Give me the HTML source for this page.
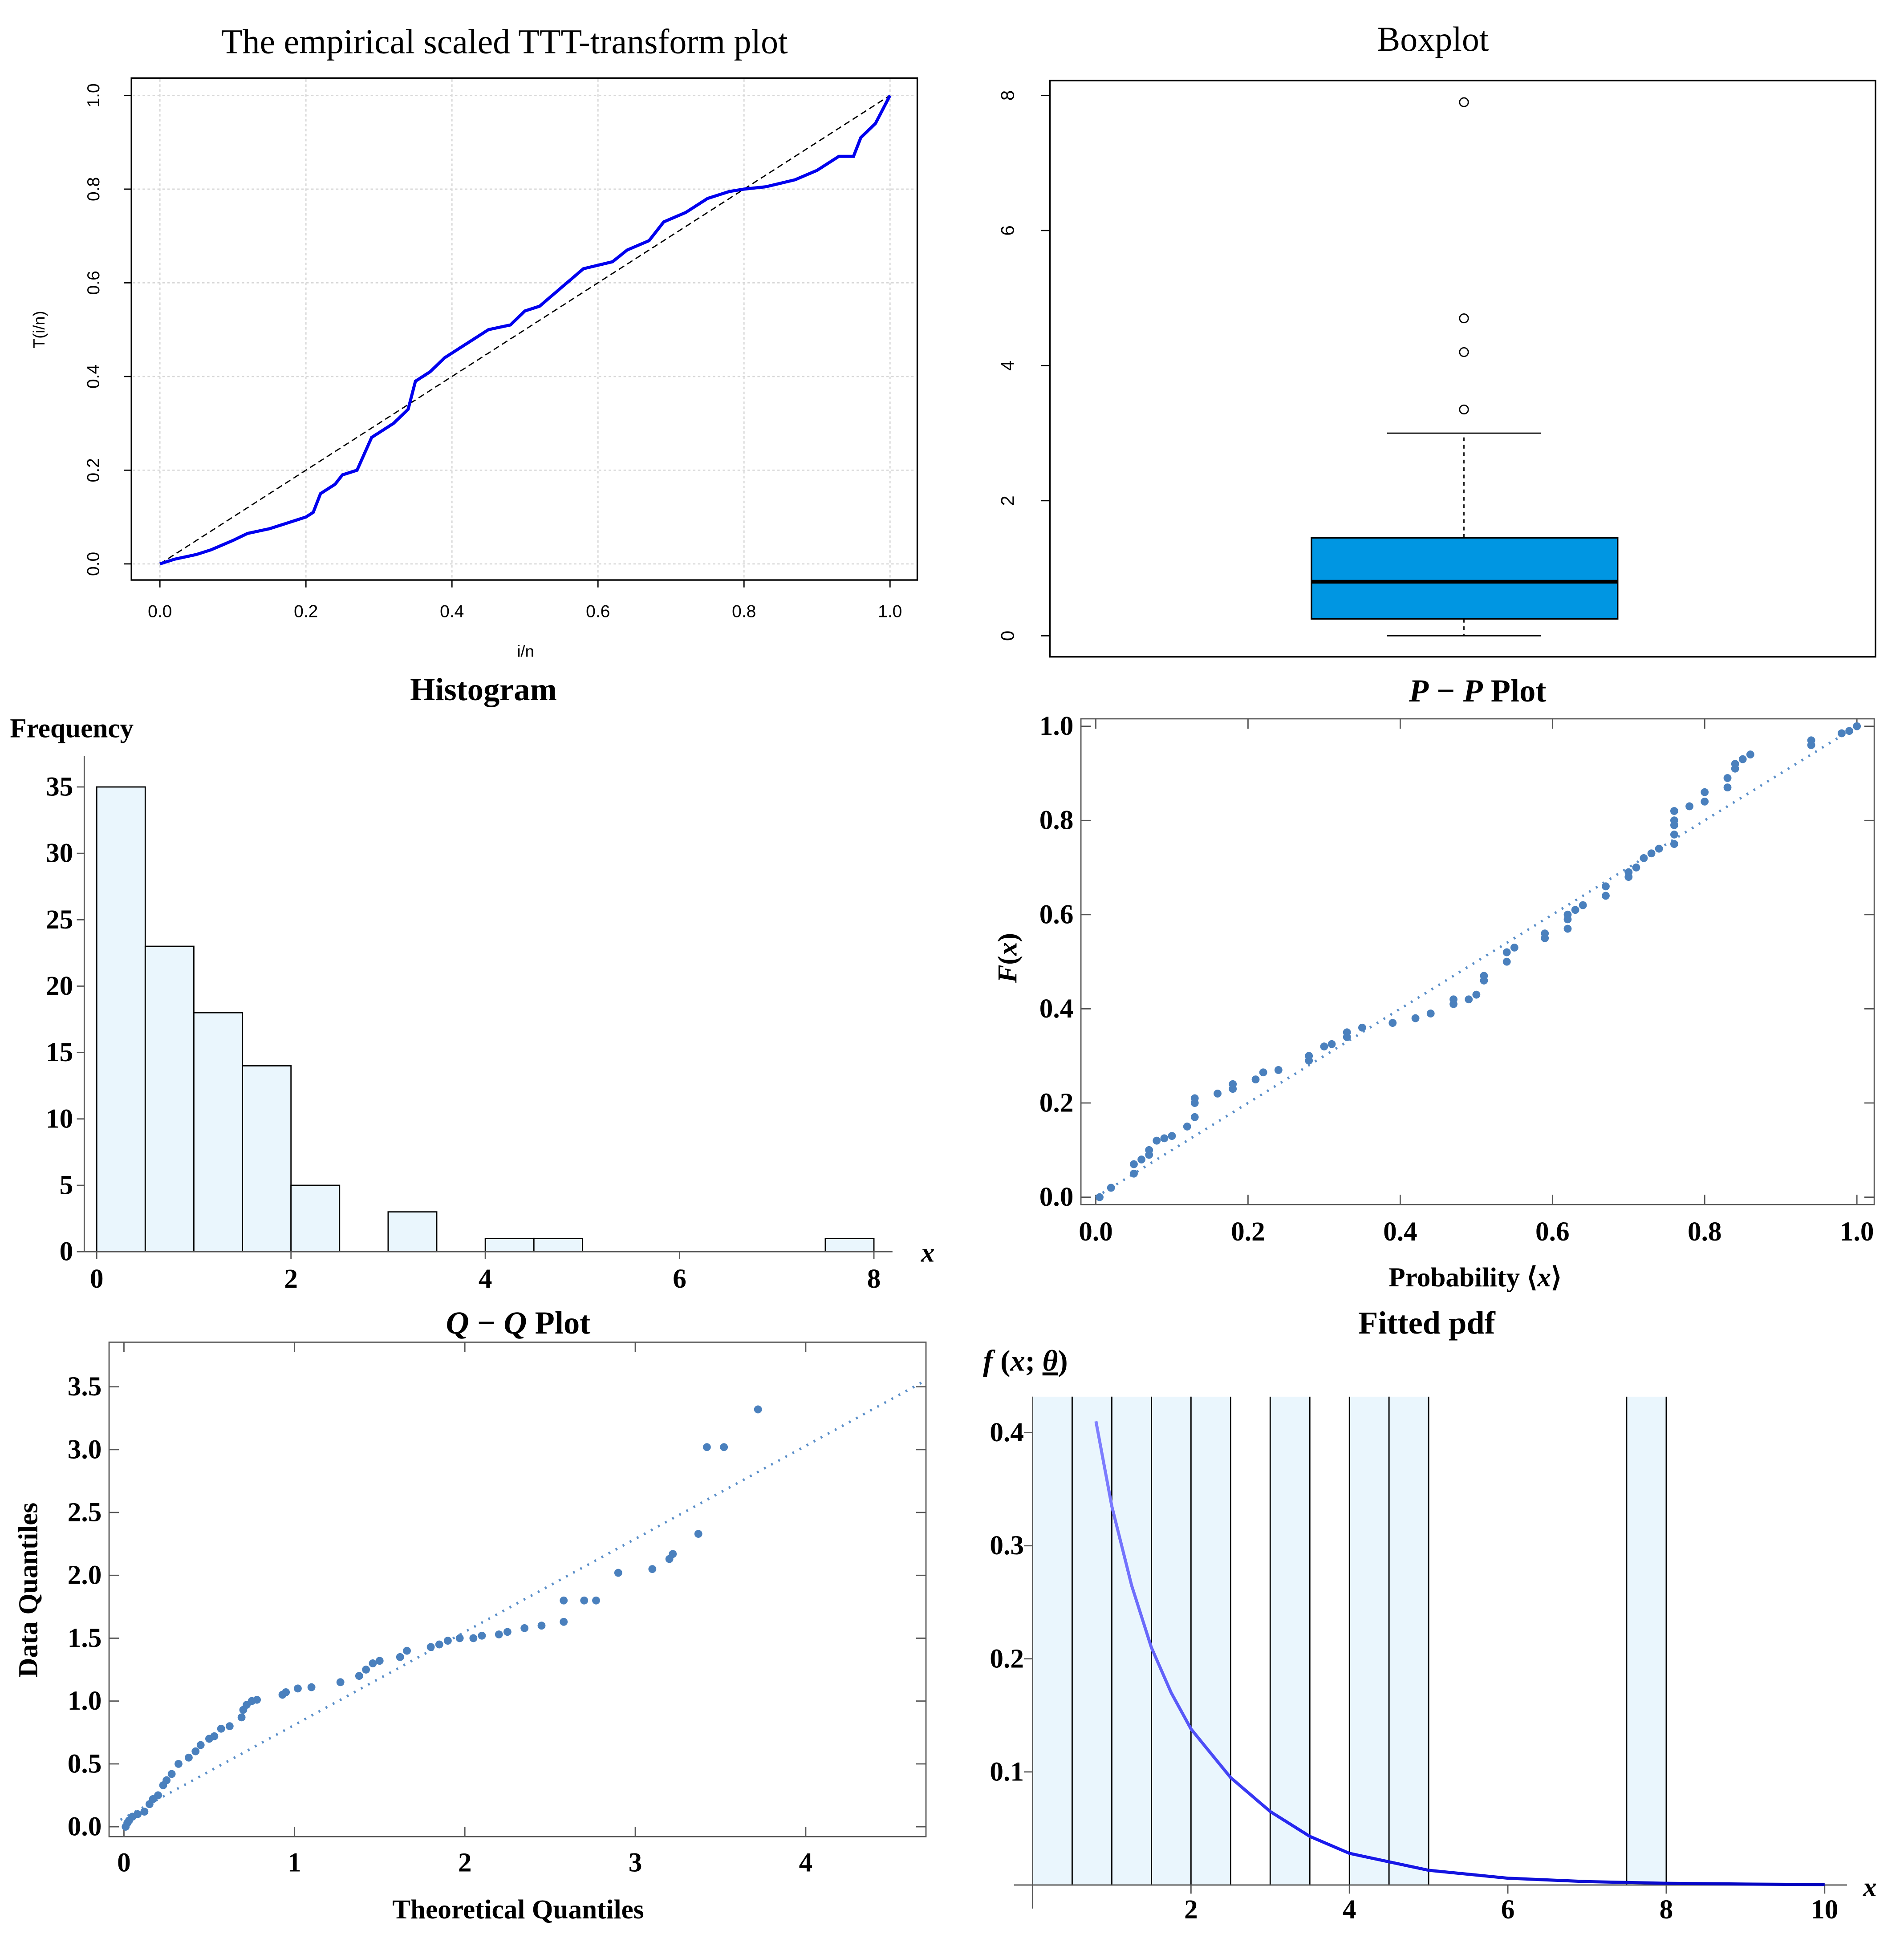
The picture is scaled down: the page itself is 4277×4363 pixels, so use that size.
<!DOCTYPE html>
<html><head><meta charset="utf-8">
<style>
html,body{margin:0;padding:0;background:#fff;}
svg{display:block;}
.ser{font-family:"Liberation Serif",serif;}
.sans{font-family:"Liberation Sans",sans-serif;}
</style></head>
<body>
<svg id="root" width="4277" height="4363" viewBox="0 0 1536 1567" preserveAspectRatio="none" xmlns="http://www.w3.org/2000/svg">
<rect x="0" y="0" width="1536" height="1567" fill="#fff"/>
<defs>
<linearGradient id="pdfgrad" x1="0" y1="0" x2="1" y2="0">
<stop offset="0" stop-color="#8080ff"/><stop offset="0.3" stop-color="#1a1aee"/><stop offset="1" stop-color="#0000bb"/>
</linearGradient>
</defs>
<text class="ser" x="407" y="43" font-size="28" text-anchor="middle">The empirical scaled TTT-transform plot</text>
<text class="sans" x="424" y="530" font-size="13" text-anchor="middle">i/n</text>
<text class="sans" x="36" y="266" font-size="13" text-anchor="middle" transform="rotate(-90 36 266)">T(i/n)</text>
<text class="ser" x="1156" y="41" font-size="28" text-anchor="middle">Boxplot</text>
<text class="ser" x="390" y="565" font-size="26" font-weight="bold" text-anchor="middle">Histogram</text>
<text class="ser" x="8" y="595" font-size="22" font-weight="bold">Frequency</text>
<text class="ser" x="743" y="1018" font-size="22" font-weight="bold" font-style="italic">x</text>
<text class="ser" x="1192" y="566" font-size="26" font-weight="bold" text-anchor="middle"><tspan font-style="italic">P</tspan> − <tspan font-style="italic">P</tspan> Plot</text>
<text class="ser" x="1190" y="1038" font-size="22" font-weight="bold" text-anchor="middle">Probability ⟨<tspan font-style="italic">x</tspan>⟩</text>
<text class="ser" x="820" y="773" font-size="22" font-weight="bold" text-anchor="middle" transform="rotate(-90 820 773)"><tspan font-style="italic">F</tspan>(<tspan font-style="italic">x</tspan>)</text>
<text class="ser" x="418" y="1076" font-size="26" font-weight="bold" text-anchor="middle"><tspan font-style="italic">Q</tspan> − <tspan font-style="italic">Q</tspan> Plot</text>
<text class="ser" x="418" y="1548" font-size="22" font-weight="bold" text-anchor="middle">Theoretical Quantiles</text>
<text class="ser" x="30" y="1283" font-size="22" font-weight="bold" text-anchor="middle" transform="rotate(-90 30 1283)">Data Quantiles</text>
<text class="ser" x="1151" y="1076" font-size="26" font-weight="bold" text-anchor="middle">Fitted pdf</text>
<text class="ser" x="793" y="1106" font-size="24" font-weight="bold"><tspan font-style="italic">f</tspan> (<tspan font-style="italic">x</tspan>; <tspan text-decoration="underline" font-style="italic">θ</tspan>)</text>
<text class="ser" x="1503" y="1530" font-size="22" font-weight="bold" font-style="italic">x</text>
</svg>
<script>
const tttX=[0,0.02,0.05,0.07,0.1,0.12,0.15,0.17,0.2,0.21,0.22,0.24,0.25,0.27,0.29,0.32,0.34,0.35,0.37,0.39,0.41,0.43,0.45,0.48,0.5,0.52,0.55,0.58,0.62,0.64,0.67,0.69,0.72,0.75,0.78,0.8,0.83,0.87,0.9,0.93,0.95,0.96,0.98,1];
const tttY=[0,0.01,0.02,0.03,0.05,0.065,0.075,0.085,0.1,0.11,0.15,0.17,0.19,0.2,0.27,0.3,0.33,0.39,0.41,0.44,0.46,0.48,0.5,0.51,0.54,0.55,0.59,0.63,0.645,0.67,0.69,0.73,0.75,0.78,0.795,0.8,0.805,0.82,0.84,0.87,0.87,0.91,0.94,1];
const tttTicks=[0,0.2,0.4,0.6,0.8,1.0];
const boxStats=[0,0.25,0.8,1.45,3.0];
const boxOutliers=[3.35,4.2,4.7,7.9];
const boxTicks=[0,2,4,6,8];
const histStarts=[0,0.5,1,1.5,2,2.5,3,3.5,4,4.5,5,5.5,6,6.5,7,7.5];
const histCounts=[35,23,18,14,5,0,3,0,1,1,0,0,0,0,0,1];
const histXTicks=[0,2,4,6,8];
const histYTicks=[0,5,10,15,20,25,30,35];
const ppX=[0.005,0.02,0.05,0.05,0.06,0.07,0.07,0.08,0.09,0.1,0.12,0.13,0.13,0.13,0.16,0.18,0.18,0.21,0.22,0.24,0.28,0.28,0.3,0.31,0.33,0.33,0.35,0.39,0.42,0.44,0.47,0.47,0.49,0.5,0.51,0.51,0.54,0.54,0.55,0.59,0.59,0.62,0.62,0.62,0.63,0.64,0.67,0.67,0.7,0.7,0.71,0.72,0.73,0.74,0.76,0.76,0.76,0.76,0.76,0.78,0.8,0.8,0.83,0.83,0.84,0.84,0.85,0.86,0.94,0.94,0.98,0.99,1.0];
const ppY=[0.0,0.02,0.05,0.07,0.08,0.1,0.09,0.12,0.125,0.13,0.15,0.17,0.2,0.21,0.22,0.23,0.24,0.25,0.265,0.27,0.29,0.3,0.32,0.325,0.34,0.35,0.36,0.37,0.38,0.39,0.41,0.42,0.42,0.43,0.46,0.47,0.5,0.52,0.53,0.55,0.56,0.57,0.59,0.6,0.61,0.62,0.64,0.66,0.68,0.69,0.7,0.72,0.73,0.74,0.75,0.77,0.79,0.8,0.82,0.83,0.84,0.86,0.87,0.89,0.91,0.92,0.93,0.94,0.96,0.97,0.985,0.99,1.0];
const ppTicks=[0,0.2,0.4,0.6,0.8,1.0];
const qqX=[0.01,0.02,0.03,0.05,0.08,0.12,0.15,0.17,0.2,0.23,0.25,0.28,0.32,0.38,0.42,0.45,0.5,0.53,0.57,0.62,0.69,0.7,0.72,0.75,0.78,0.93,0.95,1.02,1.1,1.27,1.38,1.42,1.46,1.5,1.62,1.66,1.8,1.85,1.9,1.97,2.05,2.1,2.2,2.25,2.35,2.45,2.58,2.58,2.7,2.77,2.9,3.1,3.2,3.22,3.37,3.42,3.52,3.72];
const qqY=[0.0,0.03,0.05,0.08,0.1,0.12,0.18,0.22,0.25,0.33,0.37,0.42,0.5,0.55,0.6,0.65,0.7,0.72,0.78,0.8,0.87,0.93,0.97,1.0,1.01,1.05,1.07,1.1,1.11,1.15,1.2,1.25,1.3,1.32,1.35,1.4,1.43,1.45,1.48,1.5,1.5,1.52,1.53,1.55,1.58,1.6,1.63,1.8,1.8,1.8,2.02,2.05,2.13,2.17,2.33,3.02,3.02,3.32];
const qqLine=[0.07,0.74];
const qqXTicks=[0,1,2,3,4];
const qqYTicks=[0,0.5,1,1.5,2,2.5,3,3.5];
const pdfBarStarts=[0,0.5,1,1.5,2,3,4,4.5,7.5];
const pdfCurveX=[0.8,1,1.25,1.5,1.75,2,2.5,3,3.5,4,5,6,7,8,9,10];
const pdfCurveY=[0.41,0.335,0.265,0.21,0.17,0.138,0.095,0.065,0.043,0.028,0.013,0.006,0.003,0.0015,0.0008,0.0004];
const pdfXTicks=[2,4,6,8,10];
const pdfYTicks=[0.1,0.2,0.3,0.4];

const NS='http://www.w3.org/2000/svg';
const root=document.getElementById('root');
function mk(tag,at,txt){const e=document.createElementNS(NS,tag);for(const k in at)e.setAttribute(k,at[k]);if(txt!==undefined)e.textContent=txt;root.appendChild(e);return e;}
function tag(e,n){


return e;}
function lin(d0,d1,p0,p1){return v=>p0+(v-d0)/(d1-d0)*(p1-p0);}
const SER='"Liberation Serif",serif', SANS='"Liberation Sans",sans-serif';

{const X=lin(0,1,129,718),Y=lin(0,1,455,77);
tttTicks.forEach(t=>{
 tag(mk('line',{x1:X(t),x2:X(t),y1:64,y2:467,stroke:'#d8d8d8','stroke-dasharray':'2,2','stroke-width':1}),'ttt-x-gridline');
 tag(mk('line',{x1:107,x2:739,y1:Y(t),y2:Y(t),stroke:'#d8d8d8','stroke-dasharray':'2,2','stroke-width':1}),'ttt-y-gridline');
 tag(mk('line',{x1:X(t),x2:X(t),y1:468,y2:474,stroke:'#000'}),'ttt-x-tick');
 tag(mk('text',{x:X(t),y:498,'font-size':14,'text-anchor':'middle','font-family':SANS},t.toFixed(1)),'ttt-x-tick-label');
 tag(mk('line',{x1:100,x2:106,y1:Y(t),y2:Y(t),stroke:'#000'}),'ttt-y-tick');
 tag(mk('text',{x:80,y:Y(t),'font-size':14,'text-anchor':'middle','font-family':SANS,transform:`rotate(-90 80 ${Y(t)})`},t.toFixed(1)),'ttt-y-tick-label');
});
tag(mk('rect',{x:106,y:63,width:634,height:405,fill:'none',stroke:'#000','stroke-width':1.2}),'ttt-plot-frame');
tag(mk('line',{x1:X(0),y1:Y(0),x2:X(1),y2:Y(1),stroke:'#000','stroke-dasharray':'5,3','stroke-width':1}),'ttt-reference-diagonal');
tag(mk('polyline',{points:tttX.map((v,i)=>X(v)+','+Y(tttY[i])).join(' '),fill:'none',stroke:'#0000ee','stroke-width':2.5}),'ttt-curve');
}

{const Y=lin(0,8,513,77);const cx=1181;
tag(mk('rect',{x:847,y:65,width:666,height:465,fill:'none',stroke:'#000','stroke-width':1.2}),'boxplot-frame');
boxTicks.forEach(t=>{
 tag(mk('line',{x1:840,x2:847,y1:Y(t),y2:Y(t),stroke:'#000'}),'boxplot-y-tick');
 tag(mk('text',{x:818,y:Y(t),'font-size':15,'text-anchor':'middle','font-family':SANS,transform:`rotate(-90 818 ${Y(t)})`},String(t)),'boxplot-y-tick-label');
});
tag(mk('line',{x1:cx,x2:cx,y1:Y(boxStats[3]),y2:Y(boxStats[4]),stroke:'#000','stroke-dasharray':'3,3'}),'boxplot-upper-whisker');
tag(mk('line',{x1:1119,x2:1243,y1:Y(boxStats[4]),y2:Y(boxStats[4]),stroke:'#000'}),'boxplot-upper-cap');
tag(mk('line',{x1:cx,x2:cx,y1:Y(boxStats[1]),y2:Y(boxStats[0]),stroke:'#000','stroke-dasharray':'3,3'}),'boxplot-lower-whisker');
tag(mk('line',{x1:1119,x2:1243,y1:Y(boxStats[0]),y2:Y(boxStats[0]),stroke:'#000'}),'boxplot-lower-cap');
tag(mk('rect',{x:1058,y:Y(boxStats[3]),width:247,height:Y(boxStats[1])-Y(boxStats[3]),fill:'#0096e2',stroke:'#000','stroke-width':1.2}),'boxplot-box');
tag(mk('line',{x1:1058,x2:1305,y1:Y(boxStats[2]),y2:Y(boxStats[2]),stroke:'#000','stroke-width':3}),'boxplot-median');
boxOutliers.forEach(o=>{tag(mk('circle',{cx:cx,cy:Y(o),r:3.5,fill:'none',stroke:'#000'}),'boxplot-outlier');});
}

{const X=lin(0,8,78,705),Y=lin(0,35,1010,635);
histStarts.forEach((s,i)=>{if(histCounts[i]>0)
 tag(mk('rect',{x:X(s),y:Y(histCounts[i]),width:X(s+0.5)-X(s),height:Y(0)-Y(histCounts[i]),fill:'#eaf6fd',stroke:'#000','stroke-width':1}),'histogram-bar');});
tag(mk('line',{x1:68,x2:720,y1:1010,y2:1010,stroke:'#555'}),'histogram-x-axis');
tag(mk('line',{x1:68,x2:68,y1:610,y2:1010,stroke:'#555'}),'histogram-y-axis');
histXTicks.forEach(t=>{
 tag(mk('line',{x1:X(t),x2:X(t),y1:1010,y2:1016,stroke:'#555'}),'histogram-x-tick');
 tag(mk('text',{x:X(t),y:1039,'font-size':22,'font-weight':'bold','text-anchor':'middle','font-family':SER},String(t)),'histogram-x-tick-label');});
histYTicks.forEach(t=>{
 tag(mk('line',{x1:62,x2:68,y1:Y(t),y2:Y(t),stroke:'#555'}),'histogram-y-tick');
 tag(mk('text',{x:59,y:Y(t)+7,'font-size':22,'font-weight':'bold','text-anchor':'end','font-family':SER},String(t)),'histogram-y-tick-label');});
}

{const X=lin(0,1,884,1498),Y=lin(0,1,966,586);
tag(mk('rect',{x:872,y:580,width:640,height:392,fill:'none',stroke:'#555','stroke-width':1}),'pp-plot-frame');
ppTicks.forEach(t=>{
 tag(mk('line',{x1:X(t),x2:X(t),y1:972,y2:964,stroke:'#555'}),'pp-x-tick');
 tag(mk('line',{x1:X(t),x2:X(t),y1:580,y2:588,stroke:'#555'}),'pp-x-tick-top');
 tag(mk('text',{x:X(t),y:1001,'font-size':22,'font-weight':'bold','text-anchor':'middle','font-family':SER},t.toFixed(1)),'pp-x-tick-label');
 tag(mk('line',{x1:872,x2:880,y1:Y(t),y2:Y(t),stroke:'#555'}),'pp-y-tick');
 tag(mk('line',{x1:1504,x2:1512,y1:Y(t),y2:Y(t),stroke:'#555'}),'pp-y-tick-right');
 tag(mk('text',{x:866,y:Y(t)+7,'font-size':22,'font-weight':'bold','text-anchor':'end','font-family':SER},t.toFixed(1)),'pp-y-tick-label');});
tag(mk('line',{x1:X(0),y1:Y(0),x2:X(1),y2:Y(1),stroke:'#5b8fc9','stroke-width':2,'stroke-dasharray':'1.5,5'}),'pp-reference-line');
ppX.forEach((v,i)=>{tag(mk('circle',{cx:X(v),cy:Y(ppY[i]),r:3.2,fill:'#4a80bd'}),'pp-point');});
}

{const X=lin(0,4,100,650),Y=lin(0,3.5,1474,1119);
tag(mk('rect',{x:88,y:1083,width:659,height:399,fill:'none',stroke:'#555','stroke-width':1}),'qq-plot-frame');
qqXTicks.forEach(t=>{
 tag(mk('line',{x1:X(t),x2:X(t),y1:1482,y2:1474,stroke:'#555'}),'qq-x-tick');
 tag(mk('line',{x1:X(t),x2:X(t),y1:1083,y2:1091,stroke:'#555'}),'qq-x-tick-top');
 tag(mk('text',{x:X(t),y:1510,'font-size':22,'font-weight':'bold','text-anchor':'middle','font-family':SER},String(t)),'qq-x-tick-label');});
qqYTicks.forEach(t=>{
 tag(mk('line',{x1:88,x2:96,y1:Y(t),y2:Y(t),stroke:'#555'}),'qq-y-tick');
 tag(mk('line',{x1:739,x2:747,y1:Y(t),y2:Y(t),stroke:'#555'}),'qq-y-tick-right');
 tag(mk('text',{x:82,y:Y(t)+7,'font-size':22,'font-weight':'bold','text-anchor':'end','font-family':SER},t.toFixed(1)),'qq-y-tick-label');});
const x1=-0.02,x2=4.7;
tag(mk('line',{x1:X(x1),y1:Y(qqLine[0]+qqLine[1]*x1),x2:X(x2),y2:Y(qqLine[0]+qqLine[1]*x2),stroke:'#5b8fc9','stroke-width':2,'stroke-dasharray':'1.5,5'}),'qq-reference-line');
qqX.forEach((v,i)=>{tag(mk('circle',{cx:X(v),cy:Y(qqY[i]),r:3.2,fill:'#4a80bd'}),'qq-point');});
}

{const X=lin(0,10,833,1472),Y=lin(0,0.4,1521,1156);
pdfBarStarts.forEach(s=>{
 tag(mk('rect',{x:X(s),y:1127,width:X(s+0.5)-X(s),height:1521-1127,fill:'#eaf6fd',stroke:'none'}),'pdf-histogram-bar');
 tag(mk('line',{x1:X(s),x2:X(s),y1:1127,y2:1521,stroke:'#000'}),'pdf-bar-edge');
 tag(mk('line',{x1:X(s+0.5),x2:X(s+0.5),y1:1127,y2:1521,stroke:'#000'}),'pdf-bar-edge');});
tag(mk('line',{x1:818,x2:1490,y1:1521,y2:1521,stroke:'#555'}),'pdf-x-axis');
tag(mk('line',{x1:833,x2:833,y1:1127,y2:1540,stroke:'#555'}),'pdf-y-axis');
pdfXTicks.forEach(t=>{
 tag(mk('line',{x1:X(t),x2:X(t),y1:1521,y2:1528,stroke:'#555'}),'pdf-x-tick');
 tag(mk('text',{x:X(t),y:1548,'font-size':22,'font-weight':'bold','text-anchor':'middle','font-family':SER},String(t)),'pdf-x-tick-label');});
pdfYTicks.forEach(t=>{
 tag(mk('line',{x1:826,x2:833,y1:Y(t),y2:Y(t),stroke:'#555'}),'pdf-y-tick');
 tag(mk('text',{x:826,y:Y(t)+7,'font-size':22,'font-weight':'bold','text-anchor':'end','font-family':SER},t.toFixed(1)),'pdf-y-tick-label');});
tag(mk('polyline',{points:pdfCurveX.map((v,i)=>X(v)+','+Y(pdfCurveY[i])).join(' '),fill:'none',stroke:'url(#pdfgrad)','stroke-width':2.5,'stroke-linejoin':'round'}),'pdf-fitted-curve');
}
</script>
</body></html>
